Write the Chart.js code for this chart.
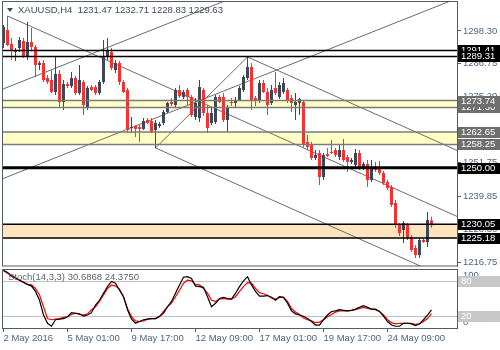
<!DOCTYPE html>
<html>
<head>
<meta charset="utf-8">
<script src="https://cdn.jsdelivr.net/npm/chart.js@4"></script>
<style>
  html, body { margin: 0; padding: 0; background: #fff; }
  #wrap { position: relative; width: 500px; height: 350px; }
  #price { position: absolute; left: 0; top: 0; }
  #stoch { position: absolute; left: 0; top: 268px; }
</style>
</head>
<body>
<div id="wrap">
  <canvas id="price" width="500" height="268"></canvas>
  <canvas id="stoch" width="500" height="82"></canvas>
</div>
<script>
// XAUUSD H4 - prix
const open = [
  1294.06, 1298.65, 1293.71, 1290.88, 1292.30, 1294.77, 1289.12, 1294.41, 1292.65, 1286.29,
  1287.00, 1281.71, 1281.00, 1276.76, 1283.12, 1273.23, 1279.59, 1278.88, 1281.71, 1276.41,
  1280.29, 1271.47, 1278.53, 1278.53, 1276.41, 1280.29, 1289.12, 1290.88, 1284.53, 1287.00,
  1280.29, 1277.47, 1264.06, 1264.76, 1264.41, 1263.70, 1266.88, 1266.53, 1263.35, 1264.76,
  1265.82, 1269.70, 1273.23, 1272.17, 1277.47, 1275.00, 1277.47, 1275.00, 1267.94, 1267.59,
  1277.47, 1269.35, 1265.82, 1266.17, 1275.00, 1275.00, 1266.88, 1273.23, 1272.88, 1273.94,
  1277.47, 1281.71, 1285.59, 1274.65, 1273.94, 1279.94, 1276.76, 1272.88, 1278.18, 1275.00,
  1276.76, 1277.47, 1274.65, 1272.17, 1272.88, 1273.23, 1259.11, 1258.06, 1253.47, 1255.23,
  1246.76, 1254.88, 1255.58, 1256.29, 1253.82, 1256.29, 1253.82, 1252.05, 1250.99, 1255.23,
  1249.94, 1251.35, 1245.70, 1250.29, 1249.94, 1248.17, 1244.99, 1243.23, 1237.58, 1229.81,
  1228.05, 1229.81, 1225.58, 1221.70, 1219.21, 1224.52, 1223.81, 1231.47
];
const high = [
  1300.41, 1303.59, 1295.83, 1292.30, 1296.18, 1295.83, 1301.47, 1299.36, 1293.36, 1287.71,
  1288.06, 1282.77, 1284.53, 1289.12, 1284.53, 1281.00, 1280.29, 1283.82, 1282.41, 1286.29,
  1281.00, 1278.88, 1279.24, 1279.24, 1281.00, 1295.12, 1295.83, 1292.30, 1288.06, 1287.71,
  1281.00, 1278.18, 1267.94, 1265.11, 1265.11, 1267.59, 1267.59, 1267.59, 1266.88, 1266.17,
  1270.41, 1273.23, 1274.65, 1278.18, 1279.24, 1277.47, 1278.18, 1275.70, 1274.65, 1281.00,
  1278.18, 1272.17, 1271.12, 1275.70, 1275.70, 1276.41, 1272.17, 1274.65, 1275.00, 1278.88,
  1282.77, 1289.12, 1287.00, 1275.35, 1281.00, 1281.00, 1278.18, 1279.24, 1283.82, 1280.29,
  1281.71, 1278.18, 1275.70, 1276.41, 1274.65, 1273.94, 1261.58, 1259.11, 1256.29, 1256.29,
  1255.23, 1257.00, 1259.82, 1257.00, 1258.06, 1260.17, 1254.53, 1253.47, 1256.64, 1256.29,
  1252.05, 1252.76, 1252.76, 1252.05, 1252.41, 1248.88, 1245.70, 1243.94, 1238.64, 1230.52,
  1231.23, 1230.52, 1226.29, 1222.76, 1225.23, 1225.23, 1234.40, 1232.71
];
const low = [
  1292.30, 1293.00, 1288.06, 1287.71, 1290.88, 1288.77, 1288.06, 1291.59, 1282.06, 1284.53,
  1280.29, 1279.59, 1276.41, 1275.70, 1271.47, 1270.41, 1278.18, 1278.18, 1275.70, 1275.70,
  1268.64, 1270.41, 1277.12, 1275.70, 1275.70, 1279.59, 1288.06, 1284.53, 1283.47, 1279.24,
  1276.41, 1262.29, 1262.29, 1260.88, 1259.11, 1263.35, 1265.47, 1262.29, 1257.00, 1264.06,
  1265.11, 1269.35, 1271.82, 1271.47, 1274.65, 1274.29, 1272.17, 1267.94, 1266.88, 1266.17,
  1268.29, 1262.29, 1265.11, 1265.47, 1272.88, 1266.17, 1262.64, 1271.82, 1271.47, 1273.59,
  1276.76, 1281.00, 1270.41, 1271.82, 1272.88, 1276.41, 1268.64, 1272.17, 1275.70, 1274.29,
  1276.06, 1272.88, 1269.70, 1266.88, 1268.64, 1257.35, 1256.29, 1252.76, 1252.76, 1243.94,
  1245.70, 1253.82, 1254.88, 1253.82, 1252.76, 1252.05, 1248.52, 1251.35, 1250.29, 1249.23,
  1249.23, 1243.23, 1244.99, 1248.52, 1247.47, 1243.94, 1242.17, 1236.17, 1228.76, 1225.93,
  1223.46, 1224.52, 1220.28, 1218.15, 1218.15, 1223.46, 1222.05, 1228.83
];
const close = [
  1299.71, 1293.36, 1291.59, 1291.59, 1295.12, 1289.47, 1294.41, 1292.65, 1286.29, 1287.00,
  1281.00, 1280.29, 1276.76, 1283.12, 1273.23, 1279.59, 1278.88, 1281.71, 1276.41, 1281.00,
  1272.17, 1278.18, 1277.47, 1276.41, 1280.29, 1289.12, 1291.59, 1285.24, 1287.00, 1280.29,
  1276.76, 1263.35, 1264.41, 1263.70, 1263.70, 1266.53, 1265.82, 1262.64, 1265.82, 1265.47,
  1269.70, 1272.88, 1272.53, 1277.47, 1275.35, 1276.76, 1275.00, 1268.64, 1272.88, 1278.53,
  1269.35, 1264.06, 1269.35, 1275.00, 1273.23, 1266.88, 1271.47, 1272.88, 1273.59, 1278.18,
  1282.06, 1285.59, 1273.94, 1273.59, 1279.94, 1276.76, 1272.17, 1277.47, 1276.41, 1279.24,
  1279.94, 1273.94, 1272.88, 1273.23, 1274.29, 1258.06, 1257.35, 1253.47, 1254.53, 1246.76,
  1254.53, 1254.17, 1255.23, 1254.53, 1256.29, 1252.76, 1252.05, 1252.76, 1255.23, 1249.94,
  1251.35, 1245.70, 1250.29, 1249.23, 1248.17, 1244.64, 1242.88, 1236.87, 1229.81, 1226.99,
  1230.52, 1225.23, 1220.99, 1219.21, 1224.52, 1223.81, 1231.58, 1229.63
];

// Stochastique (14,3,3)
const stochK = [
  98, 94, 89, 85, 81, 77, 74, 71, 62, 47,
  22, 8, 3, 14, 15, 16, 19, 26, 25, 24,
  20, 22, 26, 39, 47, 59, 70, 79, 76, 64,
  53, 31, 15, 8, 11, 14, 15, 16, 16, 20,
  25, 36, 45, 59, 73, 86, 87, 84, 71, 70,
  69, 53, 36, 42, 50, 52, 50, 49, 59, 70,
  80, 87, 73, 62, 54, 54, 55, 52, 47, 53,
  52, 42, 29, 24, 22, 20, 16, 11, 5, 5,
  14, 22, 28, 29, 31, 30, 29, 30, 32, 35,
  38, 35, 32, 32, 28, 20, 11, 5, 3, 3,
  8, 8, 7, 4, 7, 14, 22, 30.6868
];
const stochD = [
  97, 93, 88, 84, 81, 78, 74, 73, 67, 56,
  36, 16, 14, 15, 16, 18, 19, 23, 25, 23,
  22, 24, 31, 36, 45, 56, 67, 73, 71, 66,
  53, 33, 19, 12, 11, 12, 15, 16, 16, 19,
  28, 36, 42, 53, 64, 76, 81, 80, 74, 73,
  67, 59, 47, 45, 49, 50, 49, 49, 53, 62,
  70, 77, 76, 67, 60, 58, 55, 51, 49, 52,
  52, 45, 33, 27, 23, 17, 14, 12, 9, 10,
  14, 19, 23, 27, 29, 29, 29, 30, 31, 33,
  35, 33, 32, 31, 28, 22, 14, 9, 7, 8,
  8, 8, 8, 6, 7, 11, 16, 24.375
];

// Axe du temps
const timeTickIdx = [0, 16, 32, 48, 64, 80, 96];
const timeLabels = ['2 May 2016', '5 May 01:00', '9 May 17:00', '12 May 09:00', '17 May 01:00', '19 May 17:00', '24 May 09:00'];
const priceTicks = [1298.30, 1286.75, 1275.20, 1263.30, 1251.75, 1239.85, 1228.30, 1216.75];

// Niveaux horizontaux
const bandTop = [1273.74, 1262.65, 1230.05];
const bandBottom = [1271.30, 1258.25, 1225.18];
const levelLines = [1291.41, 1289.31, 1250.00];
const stochLevels = [80, 20];

// Fourchette d'Andrews + canal montant (index bougie, prix)
const trendX1 = [38, 1, 61, 38, -0.375, -0.375];
const trendY1 = [1257.00, 1303.59, 1289.12, 1257.00, 1246.05, 1277.68];
const trendX2 = [61, 113.375, 113.375, 113.375, 113.375, 113.375];
const trendY2 = [1289.12, 1232.85, 1256.15, 1209.55, 1309.81, 1341.44];

const title = 'XAUUSD,H4  1231.47 1232.71 1228.83 1229.63';
const stochTitle = 'Stoch(14,3,3) 30.6868 24.3750';

// ---------------------------------------------------------------
const FONT = '"Liberation Sans", Arial, sans-serif';
Chart.defaults.font.family = FONT;
Chart.defaults.font.size = 9.5;

const upColor = '#3c4757';
const downColor = '#ff2f2f';
const axisColor = '#555b63';
const tickText = '#4d6680';

const idx = open.map((_, i) => i);
const candleColors = idx.map(i => close[i] >= open[i] ? upColor : downColor);
const xMin = -0.375, xMax = 113.375;

const bandStyle = [
  { fill: '#ffffc6', edge: '#7a7a7a' },
  { fill: '#ffffc6', edge: '#7a7a7a' },
  { fill: '#ffe4bd', edge: '#000000' }
];
const lineWidths = [1.5, 1.5, 3];

// boites de prix sur l'axe droit (ordre de dessin)
const priceBoxes = [
  { v: 1291.41, c: '#000' }, { v: 1289.31, c: '#000' },
  { v: 1271.30, c: '#6e6e6e' }, { v: 1273.74, c: '#6e6e6e' },
  { v: 1262.65, c: '#6e6e6e' }, { v: 1258.25, c: '#6e6e6e' },
  { v: 1250.00, c: '#000' },
  { v: 1230.05, c: '#000' }, { v: 1225.18, c: '#000' }
];

function hline(ctx, a, py, color, w) {
  ctx.strokeStyle = color;
  ctx.lineWidth = w;
  ctx.beginPath();
  ctx.moveTo(a.left, py);
  ctx.lineTo(a.right, py);
  ctx.stroke();
}

function drawBox(ctx, y, text, color, textColor) {
  ctx.fillStyle = color;
  ctx.fillRect(458, Math.round(y) - 5, 42, 11);
  ctx.fillStyle = textColor;
  ctx.textAlign = 'left';
  ctx.textBaseline = 'middle';
  ctx.font = '9.5px ' + FONT;
  ctx.fillText(text, 461, Math.round(y) + 0.5);
}

const priceDecor = {
  id: 'priceDecor',
  beforeDatasetsDraw(chart) {
    const { ctx, chartArea: a, scales: { y } } = chart;
    ctx.save();
    bandTop.forEach((top, k) => {
      const y1 = y.getPixelForValue(top);
      const y2 = y.getPixelForValue(bandBottom[k]);
      ctx.fillStyle = bandStyle[k].fill;
      ctx.fillRect(a.left, y1, a.right - a.left, y2 - y1);
    });
    ctx.restore();
  },
  afterDatasetsDraw(chart) {
    const { ctx, chartArea: a, scales: { y } } = chart;
    ctx.save();
    bandTop.forEach((top, k) => {
      hline(ctx, a, y.getPixelForValue(top), bandStyle[k].edge, 1.5);
      hline(ctx, a, y.getPixelForValue(bandBottom[k]), bandStyle[k].edge, 1.5);
    });
    levelLines.forEach((v, k) => hline(ctx, a, y.getPixelForValue(v), '#000', lineWidths[k]));
    ctx.restore();
  },
  afterDraw(chart) {
    const { ctx, chartArea: a, scales: { y } } = chart;
    ctx.save();
    // cadre
    ctx.strokeStyle = axisColor;
    ctx.lineWidth = 1;
    ctx.strokeRect(a.left + 0.5, a.top - 0.5, a.right - a.left, a.bottom - a.top + 0.5);
    // titre
    ctx.fillStyle = '#3f4a58';
    ctx.beginPath();
    ctx.moveTo(7, 8); ctx.lineTo(13, 8); ctx.lineTo(10, 12); ctx.closePath();
    ctx.fill();
    ctx.font = '9.5px ' + FONT;
    ctx.textAlign = 'left';
    ctx.textBaseline = 'middle';
    ctx.fillText(title, 18, 10.5);
    // boites de prix
    priceBoxes.forEach(b => drawBox(ctx, y.getPixelForValue(b.v), b.v.toFixed(2), b.c, '#fff'));
    ctx.restore();
  }
};

const trendSets = trendX1.map((x1, k) => ({
  type: 'line',
  data: [{ x: x1, y: trendY1[k] }, { x: trendX2[k], y: trendY2[k] }],
  borderColor: '#6b6b6b',
  borderWidth: 1,
  pointRadius: 0,
  fill: false,
  order: 3
}));

new Chart(document.getElementById('price'), {
  type: 'bar',
  data: {
    datasets: [
      ...trendSets,
      {
        label: 'wick',
        data: idx.map(i => ({ x: i, y: [low[i], high[i]] })),
        backgroundColor: candleColors,
        barThickness: 1, maxBarThickness: 1,
        grouped: false, inflateAmount: 0, order: 2
      },
      {
        label: 'body',
        data: idx.map(i => ({ x: i, y: [open[i], close[i]] })),
        backgroundColor: candleColors,
        barThickness: 3, maxBarThickness: 3, minBarLength: 1,
        grouped: false, inflateAmount: 0, order: 1
      }
    ]
  },
  options: {
    responsive: false,
    animation: false,
    events: [],
    layout: { padding: { left: 2, top: 2, bottom: 2, right: 0 } },
    plugins: { legend: { display: false }, tooltip: { enabled: false } },
    scales: {
      x: { type: 'linear', display: false, min: xMin, max: xMax, offset: false, grid: { offset: false } },
      y: {
        position: 'right',
        min: 1215.34, max: 1308.53,
        afterBuildTicks: s => { s.ticks = priceTicks.map(v => ({ value: v })); },
        afterFit: s => { s.width = 43; s.paddingTop = 0; s.paddingBottom = 0; },
        ticks: { color: tickText, padding: 2, callback: v => Number(v).toFixed(2) },
        grid: { drawOnChartArea: false, tickLength: 4, color: axisColor },
        border: { display: true, color: axisColor }
      }
    }
  },
  plugins: [priceDecor]
});

const stochDecor = {
  id: 'stochDecor',
  beforeDatasetsDraw(chart) {
    const { ctx, chartArea: a, scales: { y } } = chart;
    ctx.save();
    stochLevels.forEach(v => hline(ctx, a, Math.round(y.getPixelForValue(v)) + 0.5, '#c0c0c0', 1));
    ctx.restore();
  },
  afterDraw(chart) {
    const { ctx, chartArea: a, scales: { y } } = chart;
    ctx.save();
    ctx.strokeStyle = axisColor;
    ctx.lineWidth = 1;
    ctx.strokeRect(a.left + 0.5, a.top + 0.5, a.right - a.left, a.bottom - a.top);
    ctx.font = '9.5px ' + FONT;
    ctx.textAlign = 'left';
    ctx.textBaseline = 'middle';
    ctx.fillStyle = '#5c6470';
    ctx.fillText(stochTitle, 8, a.top + 8);
    ctx.fillStyle = tickText;
    ctx.fillText('100', 463, a.top + 6);
    ctx.fillText('0', 463, a.bottom - 6);
    stochLevels.forEach(v => drawBox(ctx, y.getPixelForValue(v), String(v), '#c8c8c8', '#fff'));
    ctx.restore();
  }
};

new Chart(document.getElementById('stoch'), {
  type: 'line',
  data: {
    datasets: [
      { data: idx.map(i => ({ x: i, y: stochK[i] })), borderColor: '#000', borderWidth: 1.2, pointRadius: 0 },
      { data: idx.map(i => ({ x: i, y: stochD[i] })), borderColor: '#ff0000', borderWidth: 1.2, pointRadius: 0 }
    ]
  },
  options: {
    responsive: false,
    animation: false,
    events: [],
    layout: { padding: { left: 2, top: 1, bottom: 0, right: 0 } },
    plugins: { legend: { display: false }, tooltip: { enabled: false } },
    scales: {
      x: {
        type: 'linear', min: xMin, max: xMax, offset: false,
        afterBuildTicks: s => { s.ticks = timeTickIdx.map(v => ({ value: v })); },
        afterFit: s => { s.height = 22; s.paddingLeft = 0; s.paddingRight = 0; },
        ticks: {
          autoSkip: false, maxRotation: 0, align: 'start', color: tickText, padding: 1,
          callback: v => timeLabels[timeTickIdx.indexOf(v)]
        },
        grid: { drawOnChartArea: false, tickLength: 4, color: axisColor },
        border: { display: true, color: axisColor }
      },
      y: {
        position: 'right', min: 0, max: 100,
        afterFit: s => { s.width = 43; s.paddingTop = 0; s.paddingBottom = 0; },
        ticks: { display: false },
        grid: { drawOnChartArea: false, drawTicks: false },
        border: { display: true, color: axisColor }
      }
    }
  },
  plugins: [stochDecor]
});
</script>
</body>
</html>
